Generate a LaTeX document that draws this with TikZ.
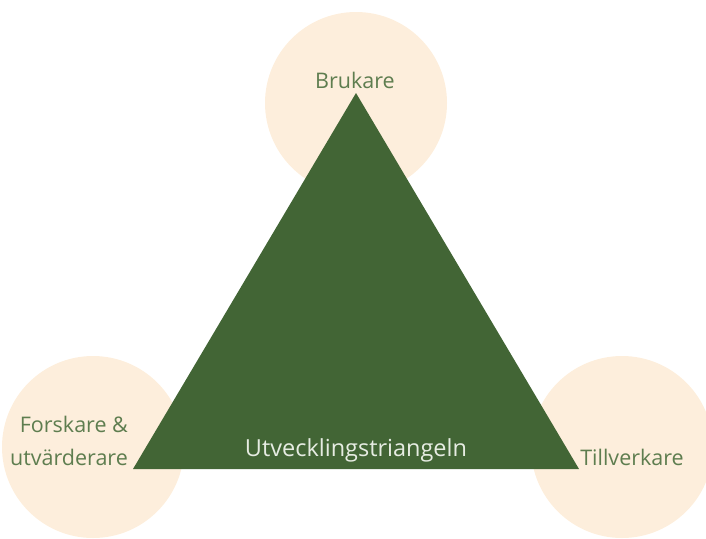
\documentclass[tikz,border=0pt]{standalone}
\usepackage{fontspec}
\setmainfont{Open Sans}
\definecolor{peach}{HTML}{FDEEDC}
\definecolor{tri}{HTML}{426535}
\definecolor{lbl}{HTML}{5E7D4F}
\definecolor{inner}{HTML}{E6ECE2}
\begin{document}
\begin{tikzpicture}[x=1pt,y=-1pt,
  circ/.style={circle,fill=peach,minimum size=182pt,inner sep=0pt},
  lab/.style={text=lbl,font=\fontsize{21.5}{33}\selectfont,inner sep=0pt,align=center}]
\useasboundingbox (0,0) rectangle (706,538);
\begin{scope}
\clip (0,0) rectangle (706,538);
\node[circ] (ctop) at (356,103) {};
\node[circ] (cleft) at (93,447) {};
\node[circ] (cright) at (622,447) {};
\end{scope}
\coordinate (apex) at (356,93);
\coordinate (bl) at (133,469);
\coordinate (br) at (579,469);
\fill[tri] (apex) -- (bl) -- (br) -- cycle;
\node[lab] (tb) at (355,80) {Brukare};
\node[lab,align=right] (tf) at (69,441) {Forskare \&\\utvärderare};
\node[lab] (tt) at (632,457) {Tillverkare};
\node[lab,text=inner,font=\fontsize{23.5}{26}\selectfont] (tu) at (356,450) {Utvecklingstriangeln};
\end{tikzpicture}
\end{document}
